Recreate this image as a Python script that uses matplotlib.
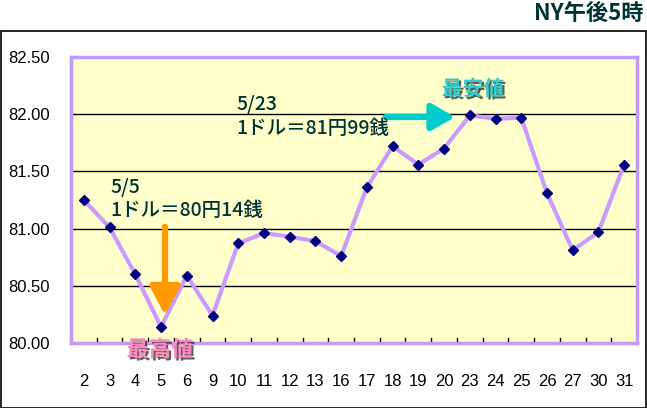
import matplotlib.pyplot as plt
import matplotlib.patheffects as pe
from matplotlib.patches import Rectangle
import numpy as np

plt.rcParams['font.family'] = ['Noto Sans CJK JP', 'DejaVu Sans']

# days of May, NY 5pm rate (yen per dollar)
days = ['2', '3', '4', '5', '6', '9', '10', '11', '12', '13', '16',
        '17', '18', '19', '20', '23', '24', '25', '26', '27', '30', '31']
rates = [81.25, 81.01, 80.60, 80.14, 80.59, 80.24, 80.87, 80.96, 80.93, 80.89, 80.76,
         81.36, 81.72, 81.56, 81.70, 81.99, 81.96, 81.97, 81.31, 80.81, 80.97, 81.56]
yticks = [80.0, 80.5, 81.0, 81.5, 82.0, 82.5]

fig = plt.figure(figsize=(6.47, 4.08), dpi=100)
W, H = 647, 408


def px(xp, yp):
    return fig.transFigure.inverted().transform((xp, H - yp))


# outer frame
fig.patches.append(Rectangle((0.5 / W, 1 - 407.5 / H), 645.5 / W, 377 / H,
                             transform=fig.transFigure, fill=False,
                             edgecolor='black', linewidth=1.2))

ax = fig.add_axes([71 / W, 1 - 343 / H, 566 / W, 286 / H])
ax.set_facecolor('#FFFFCC')
x = np.arange(len(days))
ax.plot(x, rates, color='#CC99FF', linewidth=3, zorder=3)
ax.plot(x, rates, linestyle='none', marker='D', markersize=5.5,
        color='#000080', zorder=4)

ax.set_xlim(-0.5, len(days) - 0.5)
ax.set_ylim(80.0, 82.5)
for v in yticks[1:-1]:
    ax.axhline(v, color='black', linewidth=1, zorder=2)

for s in ax.spines.values():
    s.set_color('#C499F5')
    s.set_linewidth(2.5)

ax.set_yticks(yticks)
ax.set_yticklabels([f'{v:.2f}' for v in yticks])
ax.set_xticks(x)
ax.set_xticklabels(days)
ax.tick_params(axis='y', length=0, pad=15, labelsize=12, labelfontfamily='Liberation Sans')
ax.tick_params(axis='x', length=0, pad=22, labelsize=12, labelfontfamily='Liberation Sans')
for b in np.arange(0.5, len(days) - 1, 1.0):
    ax.plot([b, b], [80.0, 80.04], color='black', linewidth=1, zorder=2)

txt_color = '#003333'
notes = [(110, 187, '5/5'), (110, 211, '1ドル＝80円14銭'),
         (236, 104, '5/23'), (236, 128, '1ドル＝81円99銭')]
for xp, yp, s in notes:
    fig.text(*px(xp, yp), s, fontsize=14, color=txt_color, va='center',
             fontweight='medium')

# arrows
ax.annotate('', xy=px(165, 318), xycoords='figure fraction',
            xytext=px(165, 224), textcoords='figure fraction',
            arrowprops=dict(arrowstyle='-|>,head_length=1.7,head_width=0.9',
                            color='#FF9900', lw=4.5))
ax.annotate('', xy=px(458, 117), xycoords='figure fraction',
            xytext=px(383, 117), textcoords='figure fraction',
            arrowprops=dict(arrowstyle='-|>,head_length=1.4,head_width=0.8',
                            color='#00CCCC', lw=4.5))

shadow = [pe.withSimplePatchShadow(offset=(1.5, -1.5), shadow_rgbFace='#333333', alpha=0.8)]
fig.text(*px(160, 350), '最高値', fontsize=16, fontweight='bold', color='#FF88BB',
         ha='center', va='center', path_effects=shadow)
fig.text(*px(473, 89), '最安値', fontsize=15, fontweight='bold', color='#33CCCC',
         ha='center', va='center', path_effects=shadow)

fig.text(*px(644, 13), 'NY午後5時', fontsize=16, fontweight='bold', color='#003333',
         ha='right', va='center')

fig.savefig('out.png', dpi=100)
